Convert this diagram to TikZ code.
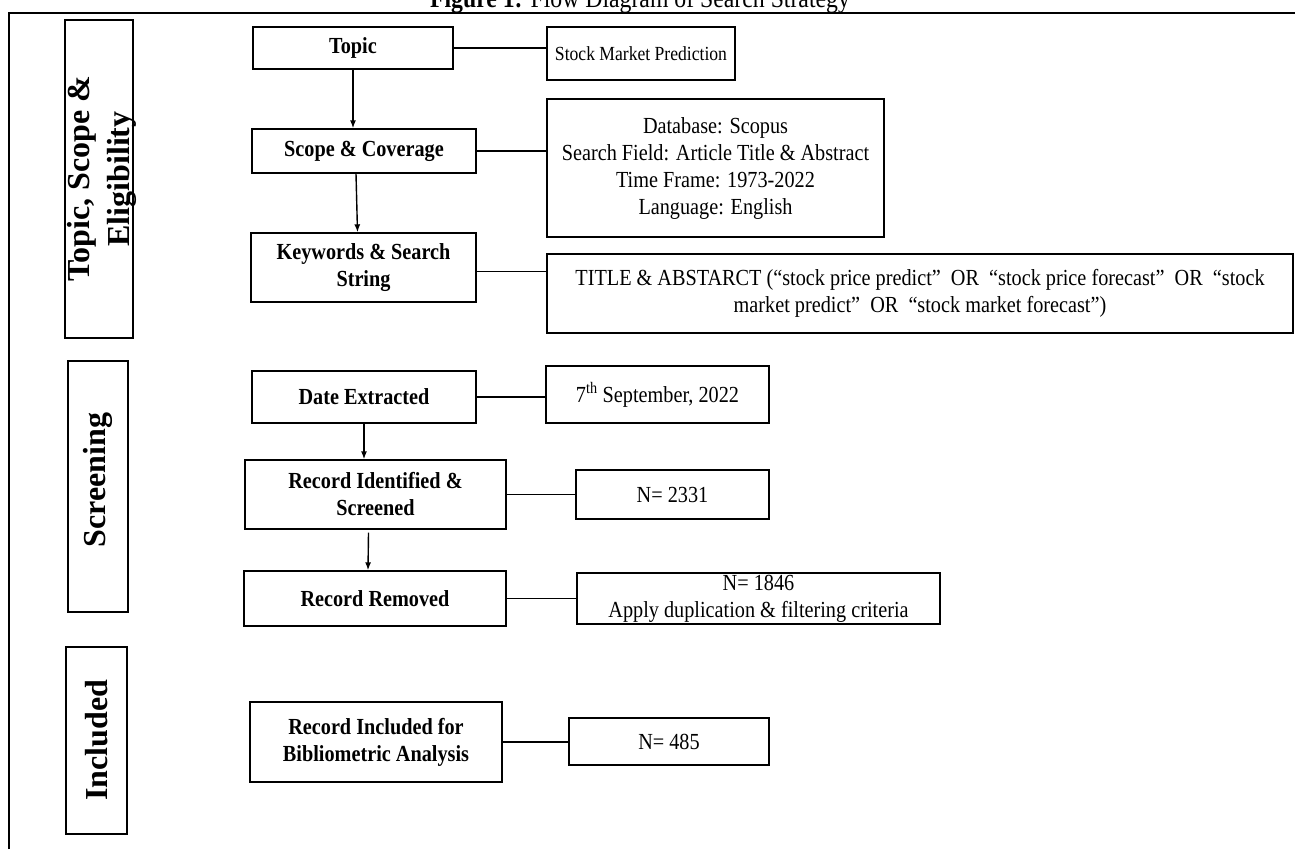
\documentclass[tikz,border=0pt]{standalone}
\usepackage{fontspec}
\setmainfont{Liberation Serif}[FakeStretch=0.88]
\newfontfamily\sidefont{Liberation Serif}
\usetikzlibrary{arrows.meta}

\begin{document}
\begin{tikzpicture}[x=1pt,y=-1pt,line width=1.4pt,>={Latex[length=8pt,width=6pt]},
  box/.style={draw,inner sep=0pt,align=center,font=\fontsize{23}{27}\selectfont},
  bbox/.style={box,font=\fontsize{23}{27}\selectfont\bfseries},
  side/.style={rotate=90,align=center,font=\sidefont\fontsize{32}{40}\selectfont\bfseries}]
\useasboundingbox (0,0) rectangle (1295,849);
\node[anchor=base,font=\fontsize{27}{30}\selectfont] (title) at (640,7) {\textbf{Figure 1:} Flow Diagram of Search Strategy};
\draw[line width=2pt] (9,849) -- (9,13) -- (1295,13);
\node[draw,minimum width=68pt,minimum height=318pt] (tsebox) at (99,179) {};
\node[side] (tse) at (102,179) {Topic, Scope \&\\Eligibility};
\node[draw,minimum width=60pt,minimum height=251pt] (scrbox) at (98,486.5) {};
\node[side] (scr) at (98,480) {Screening};
\node[draw,minimum width=61pt,minimum height=187pt] (incbox) at (96.5,740.5) {};
\node[side] (inc) at (97,740) {Included};
\node[bbox,minimum width=200pt,minimum height=42pt] (topic) at (353,48) {Topic};
\node[box,minimum width=188pt,minimum height=53pt,font=\fontsize{20}{24}\selectfont] (stock) at (641,53.5) {Stock Market Prediction};
\node[bbox,minimum width=224pt,minimum height=44pt] (scope) at (364,151) {Scope \& Coverage};
\node[box,minimum width=337pt,minimum height=138pt] (dbase) at (715.5,168) {Database: Scopus\\Search Field: Article Title \& Abstract\\Time Frame: 1973-2022\\Language: English};
\node[bbox,minimum width=225pt,minimum height=69pt] (keys) at (363.5,267.5) {Keywords \& Search\\String};
\node[box,minimum width=746pt,minimum height=79pt] (query) at (920,293.5) {TITLE \& ABSTARCT (“stock price predict”~ OR~ “stock price forecast”~ OR~ “stock\\market predict”~ OR~ “stock market forecast”)};
\node[bbox,minimum width=224pt,minimum height=52pt] (date) at (364,397) {Date Extracted};
\node[box,minimum width=223pt,minimum height=57pt] (datev) at (657.5,394.5) {7\textsuperscript{th} September, 2022};
\node[bbox,minimum width=261pt,minimum height=69pt] (ident) at (375.5,494.5) {Record Identified \&\\Screened};
\node[box,minimum width=193pt,minimum height=49pt] (nident) at (672.5,494.5) {N= 2331};
\node[bbox,minimum width=262pt,minimum height=55pt] (removed) at (375,598.5) {Record Removed};
\node[box,minimum width=363pt,minimum height=51pt] (nremoved) at (758.5,598.5) {N= 1846\\Apply duplication \& filtering criteria};
\node[bbox,minimum width=252pt,minimum height=80pt] (incl) at (376,742) {Record Included for\\Bibliometric Analysis};
\node[box,minimum width=200pt,minimum height=47pt] (nincl) at (669,741.5) {N= 485};
\draw[->] (topic.south) -- (topic.south |- scope.north);
\draw[->] ([xshift=-8pt]scope.south) -- ([xshift=-6pt]keys.north);
\draw[->] (date.south) -- (date.south |- ident.north);
\draw[->] ([xshift=-7pt,yshift=-3pt]ident.south) -- ([xshift=-7pt]removed.north);
\draw (topic.east) -- (topic.east -| stock.west);
\draw (scope.east) -- (scope.east -| dbase.west);
\draw ([yshift=-4pt]keys.east) -- ([yshift=-4pt]keys.east -| query.west);
\draw (date.east) -- (date.east -| datev.west);
\draw (ident.east) -- (ident.east -| nident.west);
\draw (removed.east) -- (removed.east -| nremoved.west);
\draw (incl.east) -- (incl.east -| nincl.west);
\end{tikzpicture}
\end{document}
